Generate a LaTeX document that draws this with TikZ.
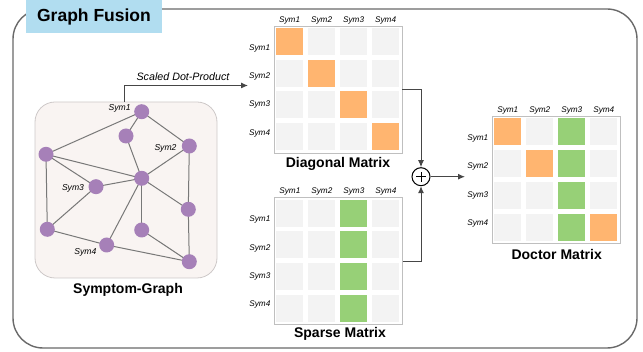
\documentclass[tikz,border=0pt]{standalone}
\usepackage{fontspec}
\setmainfont{Liberation Sans}
\usetikzlibrary{arrows.meta,calc}
\definecolor{titleblue}{RGB}{177,221,240}
\definecolor{framegray}{RGB}{105,105,105}
\definecolor{gboxfill}{RGB}{249,244,242}
\definecolor{gboxdraw}{RGB}{205,200,200}
\definecolor{purp}{RGB}{166,128,184}
\definecolor{edgegray}{RGB}{120,120,120}
\definecolor{cellgray}{RGB}{243,243,243}
\definecolor{orng}{RGB}{255,181,112}
\definecolor{grn}{RGB}{151,208,119}
\definecolor{conngray}{RGB}{70,70,70}
\pgfdeclarelayer{bglayer}
\pgfdeclarelayer{edgelayer}
\pgfsetlayers{bglayer,edgelayer,main}
\begin{document}
\begin{tikzpicture}[x=1pt,y=-1pt,
  gnode/.style={circle,fill=purp,minimum size=15,inner sep=0},
  gedge/.style={draw=edgegray,line width=1},
  glab/.style={font=\fontsize{8.6}{9}\selectfont\itshape,inner sep=0},
  lab/.style={font=\fontsize{8.2}{9}\selectfont\itshape,inner sep=0},
  mtitle/.style={font=\fontsize{14}{16}\selectfont\bfseries,inner sep=0},
  mframe/.style={draw=black!25,line width=0.8,fill=white,minimum width=128,minimum height=127,inner sep=0},
  cell/.style={minimum size=27,inner sep=0},
  conn/.style={draw=conngray,line width=1,-{Latex[length=7,width=6]}}
]
\useasboundingbox (0,0) rectangle (643,352);
% outer frame
\draw[framegray,line width=1.4,rounded corners=30] (13,9) rectangle (637,348);
\node[fill=titleblue,minimum width=136,minimum height=33,inner sep=0,
  font=\fontsize{17.5}{20}\selectfont\bfseries] (title) at (94,16.5) {Graph Fusion};

% symptom graph box
\begin{pgfonlayer}{bglayer}
\node[draw=gboxdraw,fill=gboxfill,line width=0.8,rounded corners=20,
  minimum width=182,minimum height=176,inner sep=0] (gbox) at (126,190) {};
\end{pgfonlayer}
\node[mtitle] (gtitle) at (128,290) {Symptom-Graph};

\node[gnode] (s1) at (141.7,111.7) {};
\node[gnode] (n2) at (126,136) {};
\node[gnode] (s2) at (189.3,146) {};
\node[gnode] (l1) at (46,154.3) {};
\node[gnode] (c) at (141.7,178.3) {};
\node[gnode] (s3) at (96,186.7) {};
\node[gnode] (r2) at (188.3,209.3) {};
\node[gnode] (l2) at (47.3,229.3) {};
\node[gnode] (m) at (141.7,230) {};
\node[gnode] (s4) at (106.7,245) {};
\node[gnode] (br) at (189.3,261.7) {};
\begin{pgfonlayer}{edgelayer}
\foreach \a/\b in {s1/l1,s1/n2,s1/s2,n2/c,s2/c,s2/r2,r2/br,l1/c,l1/s3,l1/l2,s3/c,s3/l2,c/r2,c/m,c/s4,m/br,l2/s4,s4/br}
  \draw[gedge] (\a.center) -- (\b.center);
\end{pgfonlayer}
\node[glab] (s1lab) at (119.7,108) {Sym1};
\node[glab] (s2lab) at (165.5,148) {Sym2};
\node[glab] (s3lab) at (73,188) {Sym3};
\node[glab] (s4lab) at (85.3,252.7) {Sym4};

% matrices
\node[mframe] (diag) at (338,89.5) {};
\node[mframe] (sparse) at (338.3,261.2) {};
\node[mframe] (doc) at (556.2,180) {};
\foreach \M/\k in {diag/1,sparse/2,doc/3}{
  \foreach \r in {1,...,4}{
    \foreach \c in {1,...,4}{
      \def\cf{cellgray}%
      \ifnum\k=1 \ifnum\r=\c \def\cf{orng}\fi\fi
      \ifnum\k=2 \ifnum\c=3 \def\cf{grn}\fi\fi
      \ifnum\k=3 \ifnum\r=\c \def\cf{orng}\fi \ifnum\c=3 \def\cf{grn}\fi\fi
      \node[cell,fill=\cf] (\M-\r-\c) at ($(\M.north west)+({\c*32-16},{\r*31.75-15.9})$) {};
    }
    \node[lab] (\M-h\r) at ($(\M.north west)+({\r*32-16},-5.5)$) {Sym\r};
    \node[lab] (\M-l\r) at ($(\M.north west)+(-14,{22.5+28.3*(\r-1)})$) {Sym\r};
  }
}
\node[mtitle] (diagt) at (338,164) {Diagonal Matrix};
\node[mtitle] (sparset) at (340,334) {Sparse Matrix};
\node[mtitle] (doct) at (556.7,254) {Doctor Matrix};

% connectors
\coordinate (dpx) at (124,85.5);
\coordinate (dpend) at (248,85.5);
\draw[conn] (gbox.north -| dpx) |- (dpend);
\node[font=\fontsize{10.7}{12}\selectfont\itshape,inner sep=0] (dplab) at (183,77) {Scaled Dot-Product};

\node[circle,draw=black,line width=1,minimum size=18,inner sep=0,fill=white,
  path picture={\draw[line width=1] ([xshift=-5pt]path picture bounding box.center) -- ([xshift=5pt]path picture bounding box.center);
  \draw[line width=1] ([yshift=-5pt]path picture bounding box.center) -- ([yshift=5pt]path picture bounding box.center);}] (plus) at (421,176.7) {};
\draw[conn] (diag.east) -| (plus.north);
\draw[conn] (sparse.east) -| (plus.south);
\coordinate (plusend) at (465,176.7);
\draw[conn] (plus.east) -- (plusend);
\end{tikzpicture}
\end{document}
